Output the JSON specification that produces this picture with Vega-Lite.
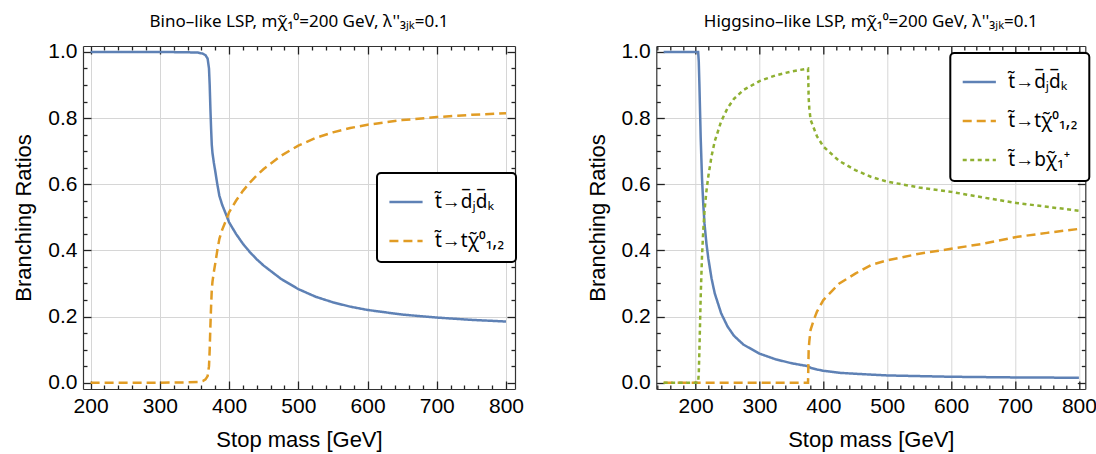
{
  "$schema": "https://vega.github.io/schema/vega-lite/v6.json",
  "padding": {"left": 12, "top": 12, "right": 5, "bottom": 3},
  "bounds": "flush",
  "spacing": 141.3,
  "datasets": {
    "bino": [
      {"mass": 200, "br": 1.0, "decay": "t̃→d̅ⱼd̅ₖ"},
      {"mass": 250, "br": 1.0, "decay": "t̃→d̅ⱼd̅ₖ"},
      {"mass": 300, "br": 1.0, "decay": "t̃→d̅ⱼd̅ₖ"},
      {"mass": 340, "br": 0.999, "decay": "t̃→d̅ⱼd̅ₖ"},
      {"mass": 355, "br": 0.998, "decay": "t̃→d̅ⱼd̅ₖ"},
      {"mass": 362, "br": 0.995, "decay": "t̃→d̅ⱼd̅ₖ"},
      {"mass": 366, "br": 0.99, "decay": "t̃→d̅ⱼd̅ₖ"},
      {"mass": 369, "br": 0.98, "decay": "t̃→d̅ⱼd̅ₖ"},
      {"mass": 371, "br": 0.95, "decay": "t̃→d̅ⱼd̅ₖ"},
      {"mass": 372, "br": 0.9, "decay": "t̃→d̅ⱼd̅ₖ"},
      {"mass": 373, "br": 0.83, "decay": "t̃→d̅ⱼd̅ₖ"},
      {"mass": 374, "br": 0.77, "decay": "t̃→d̅ⱼd̅ₖ"},
      {"mass": 375, "br": 0.72, "decay": "t̃→d̅ⱼd̅ₖ"},
      {"mass": 376, "br": 0.695, "decay": "t̃→d̅ⱼd̅ₖ"},
      {"mass": 378, "br": 0.665, "decay": "t̃→d̅ⱼd̅ₖ"},
      {"mass": 380, "br": 0.64, "decay": "t̃→d̅ⱼd̅ₖ"},
      {"mass": 383, "br": 0.6, "decay": "t̃→d̅ⱼd̅ₖ"},
      {"mass": 386, "br": 0.565, "decay": "t̃→d̅ⱼd̅ₖ"},
      {"mass": 390, "br": 0.538, "decay": "t̃→d̅ⱼd̅ₖ"},
      {"mass": 395, "br": 0.512, "decay": "t̃→d̅ⱼd̅ₖ"},
      {"mass": 400, "br": 0.485, "decay": "t̃→d̅ⱼd̅ₖ"},
      {"mass": 410, "br": 0.45, "decay": "t̃→d̅ⱼd̅ₖ"},
      {"mass": 420, "br": 0.42, "decay": "t̃→d̅ⱼd̅ₖ"},
      {"mass": 430, "br": 0.395, "decay": "t̃→d̅ⱼd̅ₖ"},
      {"mass": 440, "br": 0.373, "decay": "t̃→d̅ⱼd̅ₖ"},
      {"mass": 450, "br": 0.354, "decay": "t̃→d̅ⱼd̅ₖ"},
      {"mass": 475, "br": 0.314, "decay": "t̃→d̅ⱼd̅ₖ"},
      {"mass": 500, "br": 0.283, "decay": "t̃→d̅ⱼd̅ₖ"},
      {"mass": 525, "br": 0.26, "decay": "t̃→d̅ⱼd̅ₖ"},
      {"mass": 550, "br": 0.243, "decay": "t̃→d̅ⱼd̅ₖ"},
      {"mass": 575, "br": 0.23, "decay": "t̃→d̅ⱼd̅ₖ"},
      {"mass": 600, "br": 0.22, "decay": "t̃→d̅ⱼd̅ₖ"},
      {"mass": 650, "br": 0.206, "decay": "t̃→d̅ⱼd̅ₖ"},
      {"mass": 700, "br": 0.197, "decay": "t̃→d̅ⱼd̅ₖ"},
      {"mass": 750, "br": 0.19, "decay": "t̃→d̅ⱼd̅ₖ"},
      {"mass": 800, "br": 0.185, "decay": "t̃→d̅ⱼd̅ₖ"},
      {"mass": 200, "br": 0.0, "decay": "t̃→tχ̃⁰₁,₂"},
      {"mass": 250, "br": 0.0, "decay": "t̃→tχ̃⁰₁,₂"},
      {"mass": 300, "br": 0.0, "decay": "t̃→tχ̃⁰₁,₂"},
      {"mass": 340, "br": 0.001, "decay": "t̃→tχ̃⁰₁,₂"},
      {"mass": 355, "br": 0.002, "decay": "t̃→tχ̃⁰₁,₂"},
      {"mass": 362, "br": 0.005, "decay": "t̃→tχ̃⁰₁,₂"},
      {"mass": 366, "br": 0.01, "decay": "t̃→tχ̃⁰₁,₂"},
      {"mass": 369, "br": 0.02, "decay": "t̃→tχ̃⁰₁,₂"},
      {"mass": 371, "br": 0.05, "decay": "t̃→tχ̃⁰₁,₂"},
      {"mass": 372, "br": 0.1, "decay": "t̃→tχ̃⁰₁,₂"},
      {"mass": 373, "br": 0.17, "decay": "t̃→tχ̃⁰₁,₂"},
      {"mass": 374, "br": 0.23, "decay": "t̃→tχ̃⁰₁,₂"},
      {"mass": 375, "br": 0.28, "decay": "t̃→tχ̃⁰₁,₂"},
      {"mass": 376, "br": 0.305, "decay": "t̃→tχ̃⁰₁,₂"},
      {"mass": 378, "br": 0.335, "decay": "t̃→tχ̃⁰₁,₂"},
      {"mass": 380, "br": 0.36, "decay": "t̃→tχ̃⁰₁,₂"},
      {"mass": 383, "br": 0.4, "decay": "t̃→tχ̃⁰₁,₂"},
      {"mass": 386, "br": 0.435, "decay": "t̃→tχ̃⁰₁,₂"},
      {"mass": 390, "br": 0.462, "decay": "t̃→tχ̃⁰₁,₂"},
      {"mass": 395, "br": 0.488, "decay": "t̃→tχ̃⁰₁,₂"},
      {"mass": 400, "br": 0.515, "decay": "t̃→tχ̃⁰₁,₂"},
      {"mass": 410, "br": 0.55, "decay": "t̃→tχ̃⁰₁,₂"},
      {"mass": 420, "br": 0.58, "decay": "t̃→tχ̃⁰₁,₂"},
      {"mass": 430, "br": 0.605, "decay": "t̃→tχ̃⁰₁,₂"},
      {"mass": 440, "br": 0.627, "decay": "t̃→tχ̃⁰₁,₂"},
      {"mass": 450, "br": 0.646, "decay": "t̃→tχ̃⁰₁,₂"},
      {"mass": 475, "br": 0.686, "decay": "t̃→tχ̃⁰₁,₂"},
      {"mass": 500, "br": 0.717, "decay": "t̃→tχ̃⁰₁,₂"},
      {"mass": 525, "br": 0.74, "decay": "t̃→tχ̃⁰₁,₂"},
      {"mass": 550, "br": 0.757, "decay": "t̃→tχ̃⁰₁,₂"},
      {"mass": 575, "br": 0.77, "decay": "t̃→tχ̃⁰₁,₂"},
      {"mass": 600, "br": 0.78, "decay": "t̃→tχ̃⁰₁,₂"},
      {"mass": 650, "br": 0.794, "decay": "t̃→tχ̃⁰₁,₂"},
      {"mass": 700, "br": 0.803, "decay": "t̃→tχ̃⁰₁,₂"},
      {"mass": 750, "br": 0.81, "decay": "t̃→tχ̃⁰₁,₂"},
      {"mass": 800, "br": 0.815, "decay": "t̃→tχ̃⁰₁,₂"}
    ],
    "higgs": [
      {"mass": 150, "br": 1.0, "decay": "t̃→d̅ⱼd̅ₖ"},
      {"mass": 180, "br": 1.0, "decay": "t̃→d̅ⱼd̅ₖ"},
      {"mass": 200, "br": 1.0, "decay": "t̃→d̅ⱼd̅ₖ"},
      {"mass": 204, "br": 1.0, "decay": "t̃→d̅ⱼd̅ₖ"},
      {"mass": 205, "br": 0.97, "decay": "t̃→d̅ⱼd̅ₖ"},
      {"mass": 206, "br": 0.9, "decay": "t̃→d̅ⱼd̅ₖ"},
      {"mass": 207, "br": 0.82, "decay": "t̃→d̅ⱼd̅ₖ"},
      {"mass": 208, "br": 0.74, "decay": "t̃→d̅ⱼd̅ₖ"},
      {"mass": 209, "br": 0.68, "decay": "t̃→d̅ⱼd̅ₖ"},
      {"mass": 210, "br": 0.62, "decay": "t̃→d̅ⱼd̅ₖ"},
      {"mass": 212, "br": 0.54, "decay": "t̃→d̅ⱼd̅ₖ"},
      {"mass": 214, "br": 0.48, "decay": "t̃→d̅ⱼd̅ₖ"},
      {"mass": 217, "br": 0.42, "decay": "t̃→d̅ⱼd̅ₖ"},
      {"mass": 220, "br": 0.375, "decay": "t̃→d̅ⱼd̅ₖ"},
      {"mass": 225, "br": 0.315, "decay": "t̃→d̅ⱼd̅ₖ"},
      {"mass": 230, "br": 0.27, "decay": "t̃→d̅ⱼd̅ₖ"},
      {"mass": 240, "br": 0.21, "decay": "t̃→d̅ⱼd̅ₖ"},
      {"mass": 250, "br": 0.17, "decay": "t̃→d̅ⱼd̅ₖ"},
      {"mass": 260, "br": 0.142, "decay": "t̃→d̅ⱼd̅ₖ"},
      {"mass": 275, "br": 0.115, "decay": "t̃→d̅ⱼd̅ₖ"},
      {"mass": 300, "br": 0.088, "decay": "t̃→d̅ⱼd̅ₖ"},
      {"mass": 325, "br": 0.071, "decay": "t̃→d̅ⱼd̅ₖ"},
      {"mass": 350, "br": 0.059, "decay": "t̃→d̅ⱼd̅ₖ"},
      {"mass": 370, "br": 0.052, "decay": "t̃→d̅ⱼd̅ₖ"},
      {"mass": 376, "br": 0.05, "decay": "t̃→d̅ⱼd̅ₖ"},
      {"mass": 380, "br": 0.045, "decay": "t̃→d̅ⱼd̅ₖ"},
      {"mass": 390, "br": 0.04, "decay": "t̃→d̅ⱼd̅ₖ"},
      {"mass": 400, "br": 0.036, "decay": "t̃→d̅ⱼd̅ₖ"},
      {"mass": 425, "br": 0.03, "decay": "t̃→d̅ⱼd̅ₖ"},
      {"mass": 450, "br": 0.027, "decay": "t̃→d̅ⱼd̅ₖ"},
      {"mass": 500, "br": 0.022, "decay": "t̃→d̅ⱼd̅ₖ"},
      {"mass": 550, "br": 0.02, "decay": "t̃→d̅ⱼd̅ₖ"},
      {"mass": 600, "br": 0.018, "decay": "t̃→d̅ⱼd̅ₖ"},
      {"mass": 700, "br": 0.016, "decay": "t̃→d̅ⱼd̅ₖ"},
      {"mass": 800, "br": 0.015, "decay": "t̃→d̅ⱼd̅ₖ"},
      {"mass": 150, "br": 0.0, "decay": "t̃→tχ̃⁰₁,₂"},
      {"mass": 200, "br": 0.0, "decay": "t̃→tχ̃⁰₁,₂"},
      {"mass": 300, "br": 0.0, "decay": "t̃→tχ̃⁰₁,₂"},
      {"mass": 376, "br": 0.0, "decay": "t̃→tχ̃⁰₁,₂"},
      {"mass": 377, "br": 0.1, "decay": "t̃→tχ̃⁰₁,₂"},
      {"mass": 378, "br": 0.125, "decay": "t̃→tχ̃⁰₁,₂"},
      {"mass": 380, "br": 0.16, "decay": "t̃→tχ̃⁰₁,₂"},
      {"mass": 385, "br": 0.19, "decay": "t̃→tχ̃⁰₁,₂"},
      {"mass": 390, "br": 0.215, "decay": "t̃→tχ̃⁰₁,₂"},
      {"mass": 400, "br": 0.25, "decay": "t̃→tχ̃⁰₁,₂"},
      {"mass": 425, "br": 0.3, "decay": "t̃→tχ̃⁰₁,₂"},
      {"mass": 450, "br": 0.33, "decay": "t̃→tχ̃⁰₁,₂"},
      {"mass": 475, "br": 0.356, "decay": "t̃→tχ̃⁰₁,₂"},
      {"mass": 500, "br": 0.37, "decay": "t̃→tχ̃⁰₁,₂"},
      {"mass": 550, "br": 0.39, "decay": "t̃→tχ̃⁰₁,₂"},
      {"mass": 600, "br": 0.405, "decay": "t̃→tχ̃⁰₁,₂"},
      {"mass": 650, "br": 0.42, "decay": "t̃→tχ̃⁰₁,₂"},
      {"mass": 700, "br": 0.44, "decay": "t̃→tχ̃⁰₁,₂"},
      {"mass": 750, "br": 0.453, "decay": "t̃→tχ̃⁰₁,₂"},
      {"mass": 800, "br": 0.465, "decay": "t̃→tχ̃⁰₁,₂"},
      {"mass": 150, "br": 0.0, "decay": "t̃→bχ̃₁⁺"},
      {"mass": 200, "br": 0.0, "decay": "t̃→bχ̃₁⁺"},
      {"mass": 204, "br": 0.0, "decay": "t̃→bχ̃₁⁺"},
      {"mass": 205, "br": 0.03, "decay": "t̃→bχ̃₁⁺"},
      {"mass": 206, "br": 0.1, "decay": "t̃→bχ̃₁⁺"},
      {"mass": 207, "br": 0.18, "decay": "t̃→bχ̃₁⁺"},
      {"mass": 208, "br": 0.26, "decay": "t̃→bχ̃₁⁺"},
      {"mass": 209, "br": 0.32, "decay": "t̃→bχ̃₁⁺"},
      {"mass": 210, "br": 0.38, "decay": "t̃→bχ̃₁⁺"},
      {"mass": 212, "br": 0.46, "decay": "t̃→bχ̃₁⁺"},
      {"mass": 214, "br": 0.52, "decay": "t̃→bχ̃₁⁺"},
      {"mass": 217, "br": 0.58, "decay": "t̃→bχ̃₁⁺"},
      {"mass": 220, "br": 0.625, "decay": "t̃→bχ̃₁⁺"},
      {"mass": 225, "br": 0.685, "decay": "t̃→bχ̃₁⁺"},
      {"mass": 230, "br": 0.73, "decay": "t̃→bχ̃₁⁺"},
      {"mass": 240, "br": 0.79, "decay": "t̃→bχ̃₁⁺"},
      {"mass": 250, "br": 0.83, "decay": "t̃→bχ̃₁⁺"},
      {"mass": 260, "br": 0.858, "decay": "t̃→bχ̃₁⁺"},
      {"mass": 275, "br": 0.885, "decay": "t̃→bχ̃₁⁺"},
      {"mass": 300, "br": 0.912, "decay": "t̃→bχ̃₁⁺"},
      {"mass": 325, "br": 0.929, "decay": "t̃→bχ̃₁⁺"},
      {"mass": 350, "br": 0.941, "decay": "t̃→bχ̃₁⁺"},
      {"mass": 370, "br": 0.948, "decay": "t̃→bχ̃₁⁺"},
      {"mass": 376, "br": 0.95, "decay": "t̃→bχ̃₁⁺"},
      {"mass": 377, "br": 0.86, "decay": "t̃→bχ̃₁⁺"},
      {"mass": 378, "br": 0.83, "decay": "t̃→bχ̃₁⁺"},
      {"mass": 380, "br": 0.795, "decay": "t̃→bχ̃₁⁺"},
      {"mass": 385, "br": 0.77, "decay": "t̃→bχ̃₁⁺"},
      {"mass": 390, "br": 0.745, "decay": "t̃→bχ̃₁⁺"},
      {"mass": 400, "br": 0.714, "decay": "t̃→bχ̃₁⁺"},
      {"mass": 425, "br": 0.67, "decay": "t̃→bχ̃₁⁺"},
      {"mass": 450, "br": 0.643, "decay": "t̃→bχ̃₁⁺"},
      {"mass": 475, "br": 0.622, "decay": "t̃→bχ̃₁⁺"},
      {"mass": 500, "br": 0.608, "decay": "t̃→bχ̃₁⁺"},
      {"mass": 550, "br": 0.59, "decay": "t̃→bχ̃₁⁺"},
      {"mass": 600, "br": 0.577, "decay": "t̃→bχ̃₁⁺"},
      {"mass": 650, "br": 0.56, "decay": "t̃→bχ̃₁⁺"},
      {"mass": 700, "br": 0.544, "decay": "t̃→bχ̃₁⁺"},
      {"mass": 750, "br": 0.532, "decay": "t̃→bχ̃₁⁺"},
      {"mass": 800, "br": 0.52, "decay": "t̃→bχ̃₁⁺"}
    ]
  },
  "resolve": {
    "scale": {"color": "independent", "strokeDash": "independent", "strokeWidth": "independent", "x": "independent", "y": "independent"},
    "legend": {"color": "independent", "strokeDash": "independent"}
  },
  "hconcat": [
    {
      "width": 432,
      "height": 343,
      "title": {"text": "Bino–like LSP, mχ̃₁⁰=200 GeV, λ''₃ⱼₖ=0.1"},
      "data": {"name": "bino"},
      "resolve": {"axis": {"x": "independent", "y": "independent"}},
      "layer": [
        {
          "mark": {"type": "line", "clip": true},
          "encoding": {
            "x": {
              "field": "mass", "type": "quantitative",
              "scale": {"domain": [189, 813], "nice": false, "zero": false},
              "axis": {
                "orient": "bottom", "title": "Stop mass [GeV]",
                "values": [200,220,240,260,280,300,320,340,360,380,400,420,440,460,480,500,520,540,560,580,600,620,640,660,680,700,720,740,760,780,800],
                "labelExpr": "datum.value % 100 == 0 ? format(datum.value, 'd') : ''",
                "ticks": true,
                "tickSize": {"condition": {"test": "datum.value % 100 == 0", "value": -8}, "value": -4},
                "grid": true,
                "gridOpacity": {"condition": {"test": "datum.value % 100 == 0", "value": 1}, "value": 0},
                "labelPadding": 14, "titlePadding": 9
              }
            },
            "y": {
              "field": "br", "type": "quantitative",
              "scale": {"domain": [-0.019, 1.018], "nice": false, "zero": false},
              "axis": {
                "orient": "left", "title": "Branching Ratios",
                "values": [0,0.05,0.1,0.15,0.2,0.25,0.3,0.35,0.4,0.45,0.5,0.55,0.6,0.65,0.7,0.75,0.8,0.85,0.9,0.95,1.0],
                "labelExpr": "round(datum.value*100) % 20 == 0 ? format(datum.value, '.1f') : ''",
                "ticks": true,
                "tickSize": {"condition": {"test": "round(datum.value*100) % 20 == 0", "value": -8}, "value": -4},
                "grid": true,
                "gridOpacity": {"condition": {"test": "round(datum.value*100) % 20 == 0 && datum.value > 0.01 && datum.value < 0.99", "value": 1}, "value": 0},
                "labelPadding": 14, "titlePadding": 12
              }
            },
            "color": {
              "field": "decay", "type": "nominal",
              "scale": {"domain": ["t̃→d̅ⱼd̅ₖ", "t̃→tχ̃⁰₁,₂"], "range": ["#5E81B5", "#E19C24"]},
              "legend": {"orient": "none", "legendX": 294, "legendY": 127, "title": null}
            },
            "strokeDash": {
              "field": "decay", "type": "nominal",
              "scale": {"domain": ["t̃→d̅ⱼd̅ₖ", "t̃→tχ̃⁰₁,₂"], "range": [[1, 0], [9, 5]]},
              "legend": {"orient": "none", "legendX": 294, "legendY": 127, "title": null}
            },
            "strokeWidth": {"value": 2.5}
          }
        },
        {
          "mark": {"type": "line", "opacity": 0},
          "encoding": {
            "x": {
              "field": "mass", "type": "quantitative",
              "axis": {
                "orient": "top", "title": null, "labels": false,
                "values": [200,220,240,260,280,300,320,340,360,380,400,420,440,460,480,500,520,540,560,580,600,620,640,660,680,700,720,740,760,780,800],
                "ticks": true,
                "tickSize": {"condition": {"test": "datum.value % 100 == 0", "value": -8}, "value": -4},
                "grid": false
              }
            },
            "y": {
              "field": "br", "type": "quantitative",
              "axis": {
                "orient": "right", "title": null, "labels": false,
                "values": [0,0.05,0.1,0.15,0.2,0.25,0.3,0.35,0.4,0.45,0.5,0.55,0.6,0.65,0.7,0.75,0.8,0.85,0.9,0.95,1.0],
                "ticks": true,
                "tickSize": {"condition": {"test": "round(datum.value*100) % 20 == 0", "value": -8}, "value": -4},
                "grid": false
              }
            },
            "detail": {"field": "decay"}
          }
        }
      ]
    },
    {
      "width": 429,
      "height": 343,
      "title": {"text": "Higgsino–like LSP, mχ̃₁⁰=200 GeV, λ''₃ⱼₖ=0.1"},
      "data": {"name": "higgs"},
      "resolve": {"axis": {"x": "independent", "y": "independent"}},
      "layer": [
        {
          "mark": {"type": "line", "clip": true},
          "encoding": {
            "x": {
              "field": "mass", "type": "quantitative",
              "scale": {"domain": [138.5, 810], "nice": false, "zero": false},
              "axis": {
                "orient": "bottom", "title": "Stop mass [GeV]",
                "values": [140,160,180,200,220,240,260,280,300,320,340,360,380,400,420,440,460,480,500,520,540,560,580,600,620,640,660,680,700,720,740,760,780,800],
                "labelExpr": "datum.value % 100 == 0 ? format(datum.value, 'd') : ''",
                "ticks": true,
                "tickSize": {"condition": {"test": "datum.value % 100 == 0", "value": -8}, "value": -4},
                "grid": true,
                "gridOpacity": {"condition": {"test": "datum.value % 100 == 0", "value": 1}, "value": 0},
                "labelPadding": 14, "titlePadding": 9
              }
            },
            "y": {
              "field": "br", "type": "quantitative",
              "scale": {"domain": [-0.019, 1.018], "nice": false, "zero": false},
              "axis": {
                "orient": "left", "title": "Branching Ratios",
                "values": [0,0.05,0.1,0.15,0.2,0.25,0.3,0.35,0.4,0.45,0.5,0.55,0.6,0.65,0.7,0.75,0.8,0.85,0.9,0.95,1.0],
                "labelExpr": "round(datum.value*100) % 20 == 0 ? format(datum.value, '.1f') : ''",
                "ticks": true,
                "tickSize": {"condition": {"test": "round(datum.value*100) % 20 == 0", "value": -8}, "value": -4},
                "grid": true,
                "gridOpacity": {"condition": {"test": "round(datum.value*100) % 20 == 0 && datum.value > 0.01 && datum.value < 0.99", "value": 1}, "value": 0},
                "labelPadding": 14, "titlePadding": 12
              }
            },
            "color": {
              "field": "decay", "type": "nominal",
              "scale": {"domain": ["t̃→d̅ⱼd̅ₖ", "t̃→tχ̃⁰₁,₂", "t̃→bχ̃₁⁺"], "range": ["#5E81B5", "#E19C24", "#8FB032"]},
              "legend": {"orient": "none", "legendX": 294, "legendY": 7, "title": null}
            },
            "strokeDash": {
              "field": "decay", "type": "nominal",
              "scale": {"domain": ["t̃→d̅ⱼd̅ₖ", "t̃→tχ̃⁰₁,₂", "t̃→bχ̃₁⁺"], "range": [[1, 0], [9, 5], [4, 3.5]]},
              "legend": {"orient": "none", "legendX": 294, "legendY": 7, "title": null}
            },
            "strokeWidth": {
              "field": "decay", "type": "nominal",
              "scale": {"domain": ["t̃→d̅ⱼd̅ₖ", "t̃→tχ̃⁰₁,₂", "t̃→bχ̃₁⁺"], "range": [2.5, 2.5, 3.8]},
              "legend": null
            }
          }
        },
        {
          "mark": {"type": "line", "opacity": 0},
          "encoding": {
            "x": {
              "field": "mass", "type": "quantitative",
              "axis": {
                "orient": "top", "title": null, "labels": false,
                "values": [140,160,180,200,220,240,260,280,300,320,340,360,380,400,420,440,460,480,500,520,540,560,580,600,620,640,660,680,700,720,740,760,780,800],
                "ticks": true,
                "tickSize": {"condition": {"test": "datum.value % 100 == 0", "value": -8}, "value": -4},
                "grid": false
              }
            },
            "y": {
              "field": "br", "type": "quantitative",
              "axis": {
                "orient": "right", "title": null, "labels": false,
                "values": [0,0.05,0.1,0.15,0.2,0.25,0.3,0.35,0.4,0.45,0.5,0.55,0.6,0.65,0.7,0.75,0.8,0.85,0.9,0.95,1.0],
                "ticks": true,
                "tickSize": {"condition": {"test": "round(datum.value*100) % 20 == 0", "value": -8}, "value": -4},
                "grid": false
              }
            },
            "detail": {"field": "decay"}
          }
        }
      ]
    }
  ],
  "config": {
    "font": "Liberation Sans",
    "view": {"stroke": null},
    "axis": {
      "labelFont": "Liberation Sans", "labelFontSize": 21, "labelColor": "#000000",
      "titleFont": "Liberation Sans", "titleFontSize": 22, "titleFontWeight": "normal", "titleColor": "#000000",
      "domainColor": "#333333", "domainWidth": 1.2, "tickColor": "#222222", "tickWidth": 1.3,
      "gridColor": "#d6d6d6", "gridWidth": 1,
      "labelOverlap": false, "labelFlush": false, "labelBound": false
    },
    "legend": {
      "labelFont": "Noto Sans", "labelFontSize": 19, "labelColor": "#000000",
      "strokeColor": "#000000", "strokeWidth": 2, "fillColor": "#ffffff", "cornerRadius": 4,
      "padding": 11, "rowPadding": 11, "symbolType": "stroke", "symbolSize": 1100,
      "symbolStrokeWidth": 2.5, "labelOffset": 11
    },
    "title": {"font": "Noto Sans", "fontSize": 17, "fontWeight": "normal", "color": "#000000", "offset": 10}
  }
}
